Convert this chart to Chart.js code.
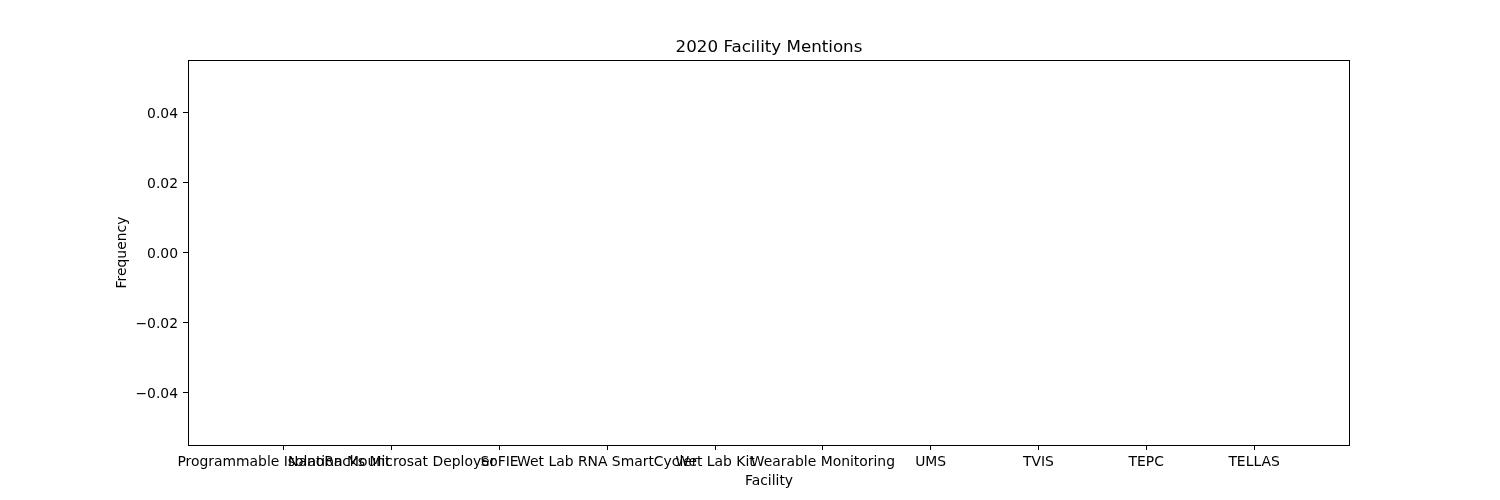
<!DOCTYPE html>
<html>
<head>
<meta charset="utf-8">
<script src="https://cdn.jsdelivr.net/npm/chart.js@4"></script>
<style>
html,body{margin:0;padding:0;background:#fff;}
canvas{display:block;}
</style>
</head>
<body>
<canvas id="c" width="1500" height="500"></canvas>
<script>
const facilities = ["Programmable Isolation Mount", "NanoRacks Microsat Deployer", "SoFIE", "Wet Lab RNA SmartCycler", "Wet Lab Kit", "Wearable Monitoring", "UMS", "TVIS", "TEPC", "TELLAS"];
const mentions = [0, 0, 0, 0, 0, 0, 0, 0, 0, 0];
const yTicks = [-0.04, -0.02, 0.00, 0.02, 0.04];
const chartTitle = '2020 Facility Mentions';

const FONT = "'DejaVu Sans', sans-serif";
const framePlugin = {
  id: 'frame',
  afterDraw(chart) {
    const {ctx, chartArea: a} = chart;
    ctx.save();
    ctx.strokeStyle = '#000';
    ctx.lineWidth = 1;
    const l = Math.round(a.left) + 0.5, t = Math.round(a.top) + 0.5;
    const r = Math.round(a.right) - 0.5, b = Math.round(a.bottom) + 0.5;
    ctx.strokeRect(l, t, r - l, b - t);
    // title centred over the plot area
    ctx.fillStyle = '#000';
    ctx.font = "16.7px " + FONT;
    ctx.textAlign = 'center';
    ctx.textBaseline = 'middle';
    ctx.fillText(chartTitle, (a.left + a.right) / 2, a.top - 12);
    ctx.restore();
  }
};

new Chart(document.getElementById('c'), {
  type: 'bar',
  data: {
    datasets: [{
      data: facilities.map((f, i) => ({x: i, y: mentions[i]})),
      backgroundColor: '#1f77b4',
      borderWidth: 0,
      barPercentage: 0.8,
      categoryPercentage: 1.0
    }]
  },
  options: {
    responsive: false,
    animation: false,
    layout: {padding: {left: 0, right: 150, top: 60, bottom: 0}},
    plugins: {
      legend: {display: false},
      tooltip: {enabled: false},
      title: {display: false}
    },
    scales: {
      x: {
        type: 'linear',
        min: -0.89,
        max: 9.89,
        offset: false,
        afterBuildTicks: s => { s.ticks = facilities.map((f, i) => ({value: i})); },
        afterFit: s => { s.height = 55; },
        ticks: {
          autoSkip: false,
          maxRotation: 0,
          minRotation: 0,
          color: '#000',
          padding: 4,
          font: {family: FONT, size: 13.9},
          callback: v => facilities[v]
        },
        grid: {offset: false, drawOnChartArea: false, tickLength: 5, color: '#000', tickColor: '#000'},
        border: {display: false},
        title: {
          display: true,
          text: 'Facility',
          color: '#000',
          font: {family: FONT, size: 13.9},
          padding: {top: 0, bottom: 10}
        }
      },
      y: {
        min: -0.055,
        max: 0.055,
        afterBuildTicks: s => { s.ticks = yTicks.map(v => ({value: v})); },
        afterFit: s => { s.width = 188; },
        ticks: {
          color: '#000',
          padding: 5,
          labelOffset: 1.5,
          font: {family: FONT, size: 13.9},
          callback: v => (v < 0 ? '\u2212' : '') + Math.abs(v).toFixed(2)
        },
        grid: {offset: false, drawOnChartArea: false, tickLength: 5, color: '#000', tickColor: '#000'},
        border: {display: false},
        title: {
          display: true,
          text: 'Frequency',
          color: '#000',
          font: {family: FONT, size: 13.9},
          padding: {top: 114, bottom: 0}
        }
      }
    }
  },
  plugins: [framePlugin]
});
</script>
</body>
</html>
